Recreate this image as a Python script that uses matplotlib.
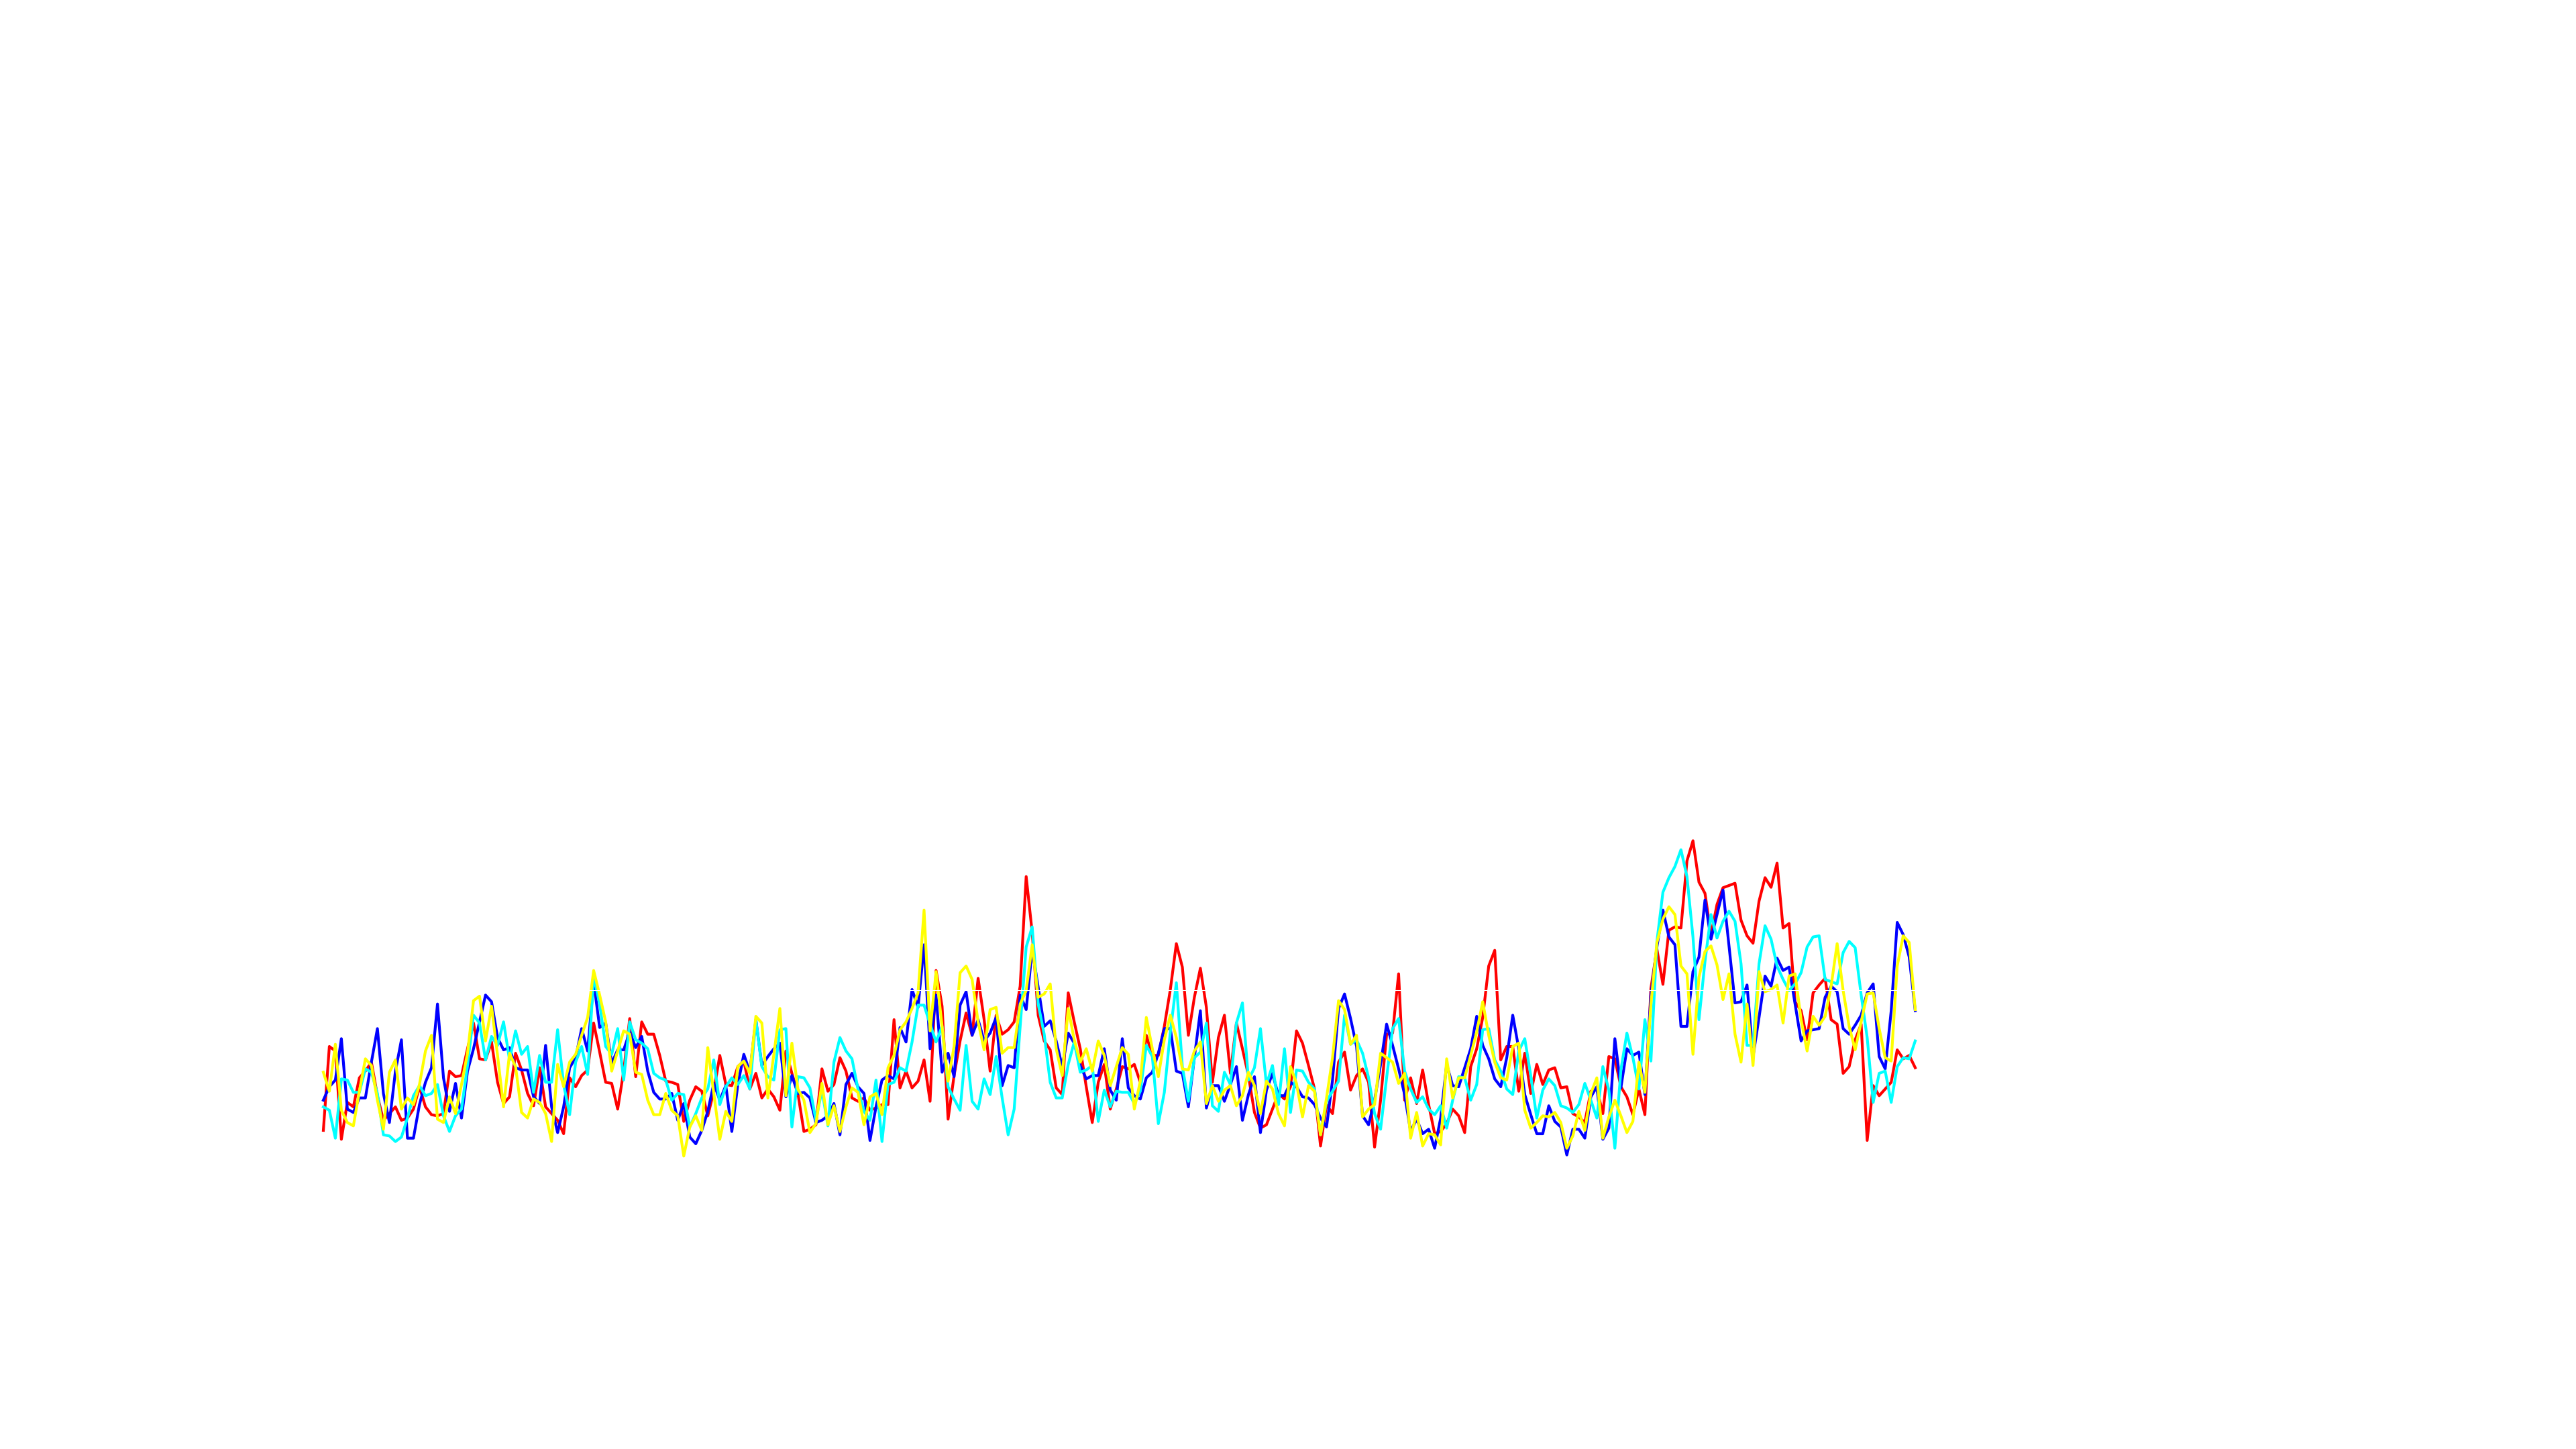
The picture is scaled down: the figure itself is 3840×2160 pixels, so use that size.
import matplotlib
matplotlib.use("Agg")
import matplotlib.pyplot as plt
import numpy as np

# readings, one per sample (larger = lower on the picture)
red = [1365, 990, 1010, 1405, 1240, 1260, 1130, 1100, 1060, 1210, 1320, 1290, 1260, 1320, 1310, 1270, 1170, 1260, 1295, 1300, 1290, 1100, 1125, 1120, 1000, 885, 1045, 1050, 970, 1150, 1245, 1215, 1020, 1095, 1200, 1255, 1085, 1260, 1290, 1320, 1380, 1130, 1170, 1120,
       1095, 885, 1015, 1150, 1155, 1270, 1100, 865, 1125, 880, 935, 935, 1030, 1145, 1150, 1160, 1325, 1230, 1170, 1190, 1300, 1190, 1030, 1160, 1165, 1080, 1055, 1180, 1110, 1220, 1180, 1215, 1275, 1010, 1110, 1200, 1370, 1360, 1340, 1090, 1190, 1160, 1040,
       1100, 1220, 1235, 1220, 1275, 1265, 1250, 1250, 870, 1175, 1100, 1175, 1145, 1050, 1235, 650, 810, 1315, 1120, 965, 840, 940, 685, 870, 1100, 850, 935, 915, 880, 720, 230, 480, 850, 965, 1005, 1175, 1205, 750, 880, 1000, 1170, 1330, 1150, 1070,
       1270, 1180, 1080, 1090, 1070, 1150, 940, 1030, 1030, 900, 735, 530, 635, 940, 770, 640, 815, 1150, 950, 850, 1110, 885, 1000, 1120, 1285, 1355, 1340, 1270, 1200, 1225, 1170, 920, 975, 1075, 1180, 1435, 1250, 1290, 1060, 1015, 1185, 1120, 1090,
       1150, 1440, 1230, 935, 930, 665, 1230, 1130, 1245, 1095, 1250, 1380, 1370, 1335, 1270, 1300, 1375, 1080, 1000, 860, 630, 560, 1050, 990, 990, 1190, 1020, 1200, 1070, 1160, 1095, 1085, 1175, 1170, 1290, 1305, 1330, 1190, 1180, 1290, 1035, 1045, 1170, 1215,
       1295, 1180, 1295, 730, 555, 712, 470, 455, 460, 160, 70, 255, 305, 490, 355, 280, 270, 260, 425, 495, 528, 340, 235, 278, 170, 460, 440, 790, 830, 960, 750, 715, 685, 870, 890, 1110, 1080, 960, 890, 1410, 1165, 1210, 1180, 1150, 1005, 1045, 1030, 1085]

blue = [1230, 1170, 1140, 955, 1270, 1285, 1220, 1220, 1060, 910, 1200, 1330, 1100, 960, 1400, 1400, 1250, 1150, 1085, 800, 1130, 1280, 1155, 1310, 1100, 1000, 880, 760, 790, 950, 1005, 995, 1085, 1095, 1095, 1215, 1245, 985, 1260, 1375, 1260, 1085, 1040, 910,
        1010, 700, 905, 885, 1065, 1005, 1005, 925, 995, 945, 1100, 1195, 1225, 1225, 1200, 1320, 1245, 1395, 1425, 1365, 1280, 1155, 1230, 1165, 1370, 1160, 1025, 1105, 870, 1075, 1035, 1000, 975, 1215, 1120, 1200, 1195, 1220, 1330, 1320, 1300, 1245, 1385,
        1160, 1110, 1170, 1200, 1410, 1260, 1140, 1120, 1135, 905, 970, 735, 815, 535, 1000, 760, 1105, 1020, 1125, 805, 745, 940, 870, 965, 930, 860, 1165, 1075, 1085, 760, 825, 555, 725, 900, 875, 965, 1080, 930, 975, 1075, 1135, 1120, 1120, 1000,
        1185, 1230, 955, 1175, 1210, 1225, 1130, 1105, 1020, 910, 910, 1100, 1110, 1260, 1040, 830, 1265, 1165, 1165, 1235, 1160, 1080, 1320, 1205, 1125, 1375, 1185, 1110, 1210, 1210, 1150, 1170, 1215, 1220, 1250, 1310, 1350, 1140, 820, 755, 865, 990, 1300,
        1340, 1230, 1070, 890, 985, 1090, 1205, 1370, 1315, 1380, 1360, 1445, 1310, 1070, 1165, 1170, 1085, 1000, 855, 985, 1045, 1135, 1170, 1040, 850, 1000, 1205, 1295, 1380, 1380, 1255, 1325, 1350, 1475, 1360, 1360, 1400, 1215, 1170, 1405, 1355, 955, 1175, 1000,
        1030, 1015, 1205, 760, 545, 380, 500, 535, 900, 900, 655, 590, 335, 510, 400, 290, 540, 795, 790, 715, 1035, 860, 675, 720, 595, 650, 635, 800, 965, 920, 915, 910, 770, 720, 745, 910, 935, 895, 850, 750, 710, 1035, 1090, 830, 435, 490, 590, 830]

cyan = [1260, 1275, 1400, 1135, 1140, 1195, 1195, 1090, 1105, 1200, 1385, 1390, 1415, 1395, 1310, 1210, 1165, 1210, 1200, 1160, 1300, 1370, 1300, 1270, 1075, 850, 885, 1050, 945, 985, 880, 1050, 920, 1025, 990, 1195, 1030, 1150, 1150, 915, 1160, 1295, 1060, 990,
        1115, 675, 800, 990, 1025, 910, 1140, 880, 960, 975, 1000, 1110, 1130, 1140, 1230, 1200, 1205, 1350, 1290, 1220, 1180, 1050, 1250, 1170, 1130, 1160, 1120, 1180, 870, 1080, 1125, 1140, 915, 910, 1350, 1125, 1130, 1175, 1320, 1185, 1345, 1060, 950,
        1010, 1045, 1180, 1280, 1320, 1140, 1415, 1160, 1150, 1085, 1100, 970, 805, 805, 890, 970, 900, 1170, 1225, 1275, 985, 1235, 1270, 1135, 1205, 1035, 1220, 1385, 1270, 900, 545, 455, 800, 935, 1150, 1220, 1220, 1070, 970, 1105, 1095, 1075, 1325, 1185,
        1260, 1190, 1195, 1195, 1245, 1190, 985, 1035, 1335, 1195, 925, 705, 1080, 1235, 1040, 1015, 885, 1255, 1280, 1105, 1160, 885, 795, 1140, 1085, 910, 1160, 1075, 1250, 1000, 1285, 1095, 1100, 1150, 1180, 1385, 1235, 1190, 1145, 850, 980, 960, 1020,
        1130, 1290, 1360, 1130, 910, 865, 1100, 1180, 1240, 1215, 1270, 1295, 1255, 1355, 1230, 1125, 1130, 1230, 1160, 915, 910, 1050, 1100, 1180, 1205, 1010, 955, 1120, 1310, 1185, 1135, 1165, 1255, 1265, 1285, 1250, 1155, 1230, 1310, 1080, 1185, 1445, 1095, 930,
        1040, 1180, 870, 1055, 520, 300, 235, 185, 110, 230, 500, 870, 610, 400, 505, 430, 385, 430, 620, 985, 985, 620, 450, 510, 630, 690, 740, 710, 660, 545, 500, 495, 690, 700, 710, 570, 520, 548, 760, 950, 1240, 1110, 1100, 1240, 1080, 1040, 1045, 965]

yellow = [1105, 1190, 980, 1275, 1330, 1345, 1190, 1045, 1075, 1230, 1360, 1105, 1050, 1270, 1220, 1250, 1160, 1010, 940, 1315, 1330, 1215, 1290, 1160, 1020, 785, 765, 965, 810, 1030, 1260, 1020, 1080, 1285, 1310, 1225, 1240, 1290, 1415, 1070, 1170, 1060, 1025, 940,
          860, 650, 760, 880, 1100, 1010, 920, 935, 1105, 1115, 1230, 1295, 1295, 1200, 1275, 1300, 1480, 1350, 1300, 1365, 995, 1200, 1405, 1280, 1325, 1080, 1055, 1110, 855, 885, 1220, 1025, 820, 1210, 975, 1180, 1230, 1375, 1335, 1155, 1340, 1255, 1370,
          1260, 1175, 1195, 1340, 1215, 1200, 1295, 1085, 1030, 915, 880, 820, 750, 380, 920, 655, 900, 1145, 990, 660, 630, 690, 880, 1005, 825, 815, 1020, 995, 995, 800, 740, 535, 770, 755, 710, 1000, 1120, 820, 960, 1060, 1000, 1100, 965, 1030,
          1165, 1080, 995, 1025, 1270, 1145, 860, 1000, 1125, 960, 850, 950, 1090, 1095, 1010, 970, 1245, 1165, 1235, 1185, 1165, 1255, 1210, 1105, 1165, 1290, 1145, 1180, 1290, 1345, 1080, 1155, 1305, 1165, 1190, 1385, 1220, 1040, 785, 825, 980, 940, 1305,
          1270, 1250, 1020, 1040, 1060, 1155, 1110, 1400, 1285, 1435, 1380, 1385, 1430, 1045, 1220, 1130, 1130, 1030, 925, 790, 940, 1060, 1130, 1140, 990, 975, 1275, 1355, 1330, 1300, 1305, 1285, 1330, 1445, 1390, 1280, 1365, 1200, 1130, 1400, 1305, 1230, 1300, 1375,
          1325, 1060, 1195, 800, 525, 420, 365, 400, 630, 665, 1025, 680, 565, 540, 625, 780, 665, 935, 1060, 800, 1075, 655, 745, 735, 715, 885, 675, 665, 870, 1010, 855, 895, 855, 720, 530, 740, 900, 1005, 880, 755, 750, 910, 1040, 1055, 630, 495, 525, 825]

n = len(red)
t = np.arange(n)

fig = plt.figure(figsize=(19.2, 10.8), dpi=200)
ax = fig.add_axes([0, 0, 1, 1])

plt.plot(t[:len(red)], red, color="red", lw=1.5)
plt.plot(t[:len(blue)], blue, color="blue", lw=1.5)
plt.plot(t[:len(cyan)], cyan, color="cyan", lw=1.5)
plt.plot(t[:len(yellow)], yellow, color="yellow", lw=1.5)
plt.axhline(737, color="white", lw=0.4)

# place the traces where they sit in the picture
step = (2855 - 482) / (n - 1)
plt.xlim(-482 / step, (3840 - 482) / step)
plt.ylim(2790, -3690)
plt.axis("off")

plt.savefig("out.png", dpi=200, facecolor="white")
